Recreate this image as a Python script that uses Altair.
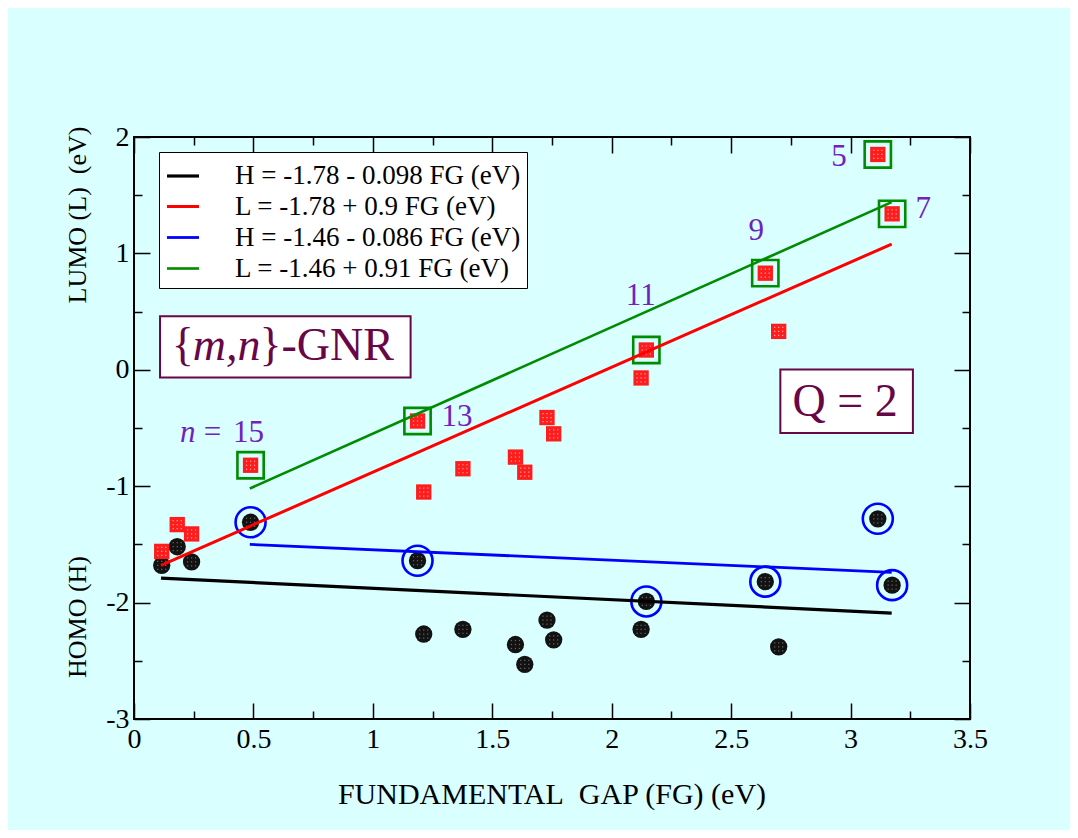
import altair as alt
import pandas as pd

# ---------------- data ----------------
fg = [0.116, 0.181, 0.241, 0.488, 1.187, 1.213, 1.377, 1.597, 1.636, 1.729, 1.757,
      2.123, 2.145, 2.643, 2.699, 3.114, 3.174]
homo = [-1.68, -1.52, -1.65, -1.31, -1.64, -2.27, -2.23, -2.36, -2.53, -2.15, -2.32,
        -2.23, -1.99, -1.82, -2.38, -1.28, -1.85]
lumo = [-1.56, -1.33, -1.41, -0.82, -0.44, -1.05, -0.85, -0.75, -0.88, -0.41, -0.55,
        -0.07, 0.17, 0.83, 0.33, 1.85, 1.34]
n_width = ["", "", "", "15", "13", "", "", "", "", "", "", "", "11", "9", "", "5", "7"]

fit_names = ["H = -1.78 - 0.098 FG (eV)", "L = -1.78 + 0.9 FG (eV)",
             "H = -1.46 - 0.086 FG (eV)", "L = -1.46 + 0.91 FG (eV)"]
fit_x0 = [0.113, 0.113, 0.485, 0.485]
fit_x1 = [3.172, 3.172, 3.172, 3.172]
fit_y0 = [-1.79, -1.68, -1.50, -1.02]
fit_y1 = [-2.09, 1.08, -1.74, 1.44]

x_major = [0, 0.5, 1, 1.5, 2, 2.5, 3, 3.5]
x_minor = [0.25, 0.75, 1.25, 1.75, 2.25, 2.75, 3.25]
y_major = [-3, -2, -1, 0, 1, 2]
y_minor = [-2.5, -1.5, -0.5, 0.5, 1.5]

# ---------------- styles ----------------
FONT = "Liberation Serif, Times New Roman, DejaVu Serif, serif"
BG = "#d9ffff"
MAROON = "#670748"
INDIGO = "#7221bc"
GREEN = "#008b00"
fit_colors = ["#000000", "#ff0000", "#0000ff", GREEN]
fit_widths = [3.2, 2.6, 2.4, 2.0]
SPECKLE = [-4, 0, 4]   # pixel offsets of the light dots in the symbol fill pattern

W, H = 836, 582

df = pd.DataFrame({"fg": fg, "homo": homo, "lumo": lumo, "n": n_width})
df["boxed"] = df["n"] != ""
fits = pd.DataFrame({"name": fit_names, "x0": fit_x0, "x1": fit_x1,
                     "y0": fit_y0, "y1": fit_y1})

xs = alt.Scale(domain=[0, 3.5], nice=False, zero=False)
ys = alt.Scale(domain=[-3, 2], nice=False, zero=False)


def X(field):
    return alt.X(field, type="quantitative", scale=xs, axis=None)


def Y(field):
    return alt.Y(field, type="quantitative", scale=ys, axis=None)


base = alt.Chart(df)

homo_pts = base.mark_circle(size=300, color="#121212", opacity=1).encode(x=X("fg"), y=Y("homo"))
lumo_pts = base.mark_square(size=235, color="#ff1c1c", opacity=1).encode(x=X("fg"), y=Y("lumo"))

speckles = []
for dx in SPECKLE:
    for dy in SPECKLE:
        speckles.append(base.mark_square(size=1.5, color="#666666", opacity=1,
                                         xOffset=dx, yOffset=dy)
                        .encode(x=X("fg"), y=Y("homo")))
        speckles.append(base.mark_square(size=1.5, color="#ffa8a8", opacity=1,
                                         xOffset=dx, yOffset=dy)
                        .encode(x=X("fg"), y=Y("lumo")))

rings = base.transform_filter("datum.boxed").mark_point(
    shape="circle", size=900, filled=False, color="#0000ff", strokeWidth=2.6, opacity=1
).encode(x=X("fg"), y=Y("homo"))
gboxes = base.transform_filter("datum.boxed").mark_point(
    shape="square", size=690, filled=False, color=GREEN, strokeWidth=2.6, opacity=1
).encode(x=X("fg"), y=Y("lumo"))

fit_lines = alt.Chart(fits).mark_rule().encode(
    x=X("x0"), x2="x1", y=Y("y0"), y2="y1",
    color=alt.Color("name:N", scale=alt.Scale(domain=fit_names, range=fit_colors),
                    legend=alt.Legend(
                        title=None, orient="none", legendX=25, legendY=15,
                        fillColor="white", strokeColor="black", padding=6,
                        symbolType="stroke", symbolSize=32 * 32, symbolStrokeWidth=2,
                        labelFont=FONT, labelFontSize=27, labelColor="black",
                        labelOffset=34, rowPadding=-1.5, labelLimit=0)),
    strokeWidth=alt.StrokeWidth("name:N", scale=alt.Scale(domain=fit_names, range=fit_widths),
                                legend=None),
)

# ---------------- annotation boxes & texts ----------------
boxes = pd.DataFrame({"x0": [0.109, 2.706], "x1": [1.158, 3.261],
                      "y0": [0.46, 0.002], "y1": [-0.067, -0.543]})
box_marks = alt.Chart(boxes).mark_rect(fill="white", stroke=MAROON, strokeWidth=2).encode(
    x=X("x0"), x2="x1", y=Y("y0"), y2="y1")


def text_layer(rows, color, size, style="normal"):
    d = pd.DataFrame(rows, columns=["t", "x", "y"])
    return alt.Chart(d).mark_text(
        font=FONT, fontSize=size, color=color, fontStyle=style,
        align="left", baseline="alphabetic"
    ).encode(x=X("x"), y=Y("y"), text="t:N")


gnr_norm = text_layer([["{", 0.158, 0.088], ["}-GNR", 0.525, 0.088]], MAROON, 46)
gnr_ital = text_layer([["m,n", 0.246, 0.088]], MAROON, 46, "italic")
q_text = text_layer([["Q = 2", 2.757, -0.40]], MAROON, 46)

n_ital = text_layer([["n", 0.1925, -0.62]], INDIGO, 31, "italic")
n_norm = text_layer([["=", 0.292, -0.62], ["15", 0.414, -0.62],
                     ["13", 1.287, -0.485], ["11", 2.059, 0.554],
                     ["9", 2.573, 1.118], ["5", 2.919, 1.748], ["7", 3.272, 1.307]],
                    INDIGO, 31)

one = pd.DataFrame({"k": [0]})
x_title = alt.Chart(one).mark_text(
    text="FUNDAMENTAL\u00a0 GAP (FG) (eV)", font=FONT, fontSize=30, color="black",
    align="center", baseline="alphabetic").encode(x=alt.value(W / 2), y=alt.value(667))
y_title_top = alt.Chart(one).mark_text(
    text="LUMO (L)\u00a0 (eV)", font=FONT, fontSize=26, color="black", angle=270,
    align="center", baseline="middle").encode(x=alt.value(-56), y=alt.value(78))
y_title_bot = alt.Chart(one).mark_text(
    text="HOMO (H)", font=FONT, fontSize=26, color="black", angle=270,
    align="center", baseline="middle").encode(x=alt.value(-56), y=alt.value(480))


# ---------------- inward ticks via offset axes ----------------
def axis_layer(orient, values, size, labels):
    ax = alt.Axis(orient=orient, values=values, tickSize=size, offset=-size, domain=False,
                  labels=labels, grid=False, title=None, ticks=True, tickColor="black",
                  tickWidth=1.5, labelFont=FONT, labelFontSize=28, labelColor="black",
                  labelPadding=6 if orient == "bottom" else 5, labelFlush=False,
                  labelOverlap=False, labelBound=False, labelExpr="datum.value + ''")
    if orient in ("bottom", "top"):
        enc = dict(x=alt.X("fg:Q", scale=xs, axis=ax), y=Y("homo"))
    else:
        enc = dict(x=X("fg"), y=alt.Y("homo:Q", scale=ys, axis=ax))
    return base.mark_point(opacity=0, size=1).encode(**enc)


axes = [
    axis_layer("bottom", x_major, 16, True),
    axis_layer("bottom", x_minor, 8, False),
    axis_layer("top", x_major, 16, False),
    axis_layer("top", x_minor, 8, False),
    axis_layer("left", y_major, 16, True),
    axis_layer("left", y_minor, 8, False),
    axis_layer("right", y_major, 16, False),
    axis_layer("right", y_minor, 8, False),
]

chart = alt.layer(
    *axes,
    box_marks, gnr_norm, gnr_ital, q_text,
    homo_pts, lumo_pts, *speckles, rings, gboxes, fit_lines,
    n_ital, n_norm, x_title, y_title_top, y_title_bot,
).resolve_axis(x="independent", y="independent").properties(
    width=W, height=H, background=BG,
    padding={"left": 126, "top": 129, "right": 100, "bottom": 111},
    autosize=alt.AutoSizeParams(type="none"),
).configure_view(stroke="black", strokeWidth=2)

chart.save("out.html", embed_options={"renderer": "svg", "actions": False})
